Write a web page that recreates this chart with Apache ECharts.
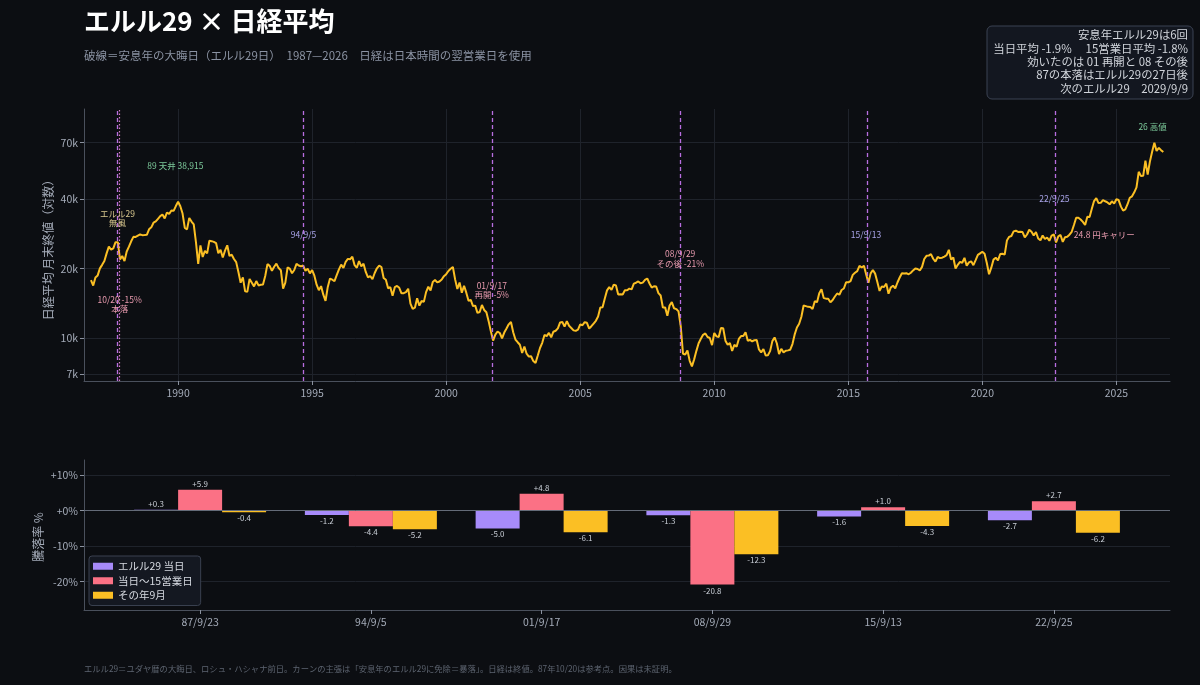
<!DOCTYPE html>
<html><head><meta charset="utf-8">
<script src="https://cdn.jsdelivr.net/npm/echarts@6/dist/echarts.min.js"></script>
<style>html,body{margin:0;padding:0;background:#0c0e12;}#c{width:1200px;height:685px;}</style>
</head><body><div id="c"></div>
<script>
const FONT = '"Noto Sans CJK JP","Noto Sans",sans-serif';

// Nikkei 225 month-end closes, starting Sep 1986
const seriesStart = { year: 1986, month: 9 };
const closes1980s = [17852,16910,18325,18701,
  20048,20767,21566,23274,24901,24176,24488,26029,26011,21910,22686,21564,
  23719,24886,26260,27434,27417,27769,28101,27911,27924,27986,29579,30159,
  31581,31986,32839,33713,34267,32949,34954,34431,35637,35549,37269,38916];
const closes1990s = [
  37189,34592,29980,29585,33131,31940,31036,25978,20984,25194,22455,23849,
  23293,26409,26292,26111,25790,23291,24121,22336,23916,25222,22687,22984,
  22023,21339,19346,17391,18348,15952,15910,18061,17399,16767,17684,16925,
  17024,17098,18591,20919,20552,19590,20380,21027,20106,19703,16408,17417,
  20229,19997,19112,19725,20974,20644,20449,20629,19564,19990,19076,19723,
  18650,17053,16140,16807,15437,14517,16678,18117,17913,17655,18744,19868,
  20813,20125,21407,22041,21956,22531,20693,20167,21556,20467,21020,19361,
  18330,18557,18003,19151,20069,20605,20331,18229,17888,16459,16633,15258,
  16628,16831,16527,15641,15671,15830,16379,14108,13406,13565,14884,13842,
  14499,14368,15837,16702,16112,17530,17862,17437,17606,17942,18558,18934];
const closes2000s = [
  19540,19960,20337,17974,16332,17411,15727,16861,15747,14539,14649,13786,
  13844,12884,12999,13934,13262,12969,11861,10714,9775,10367,10697,10543,
  9998,10588,11025,11493,11764,10622,9878,9619,9383,8640,9216,8579,
  8340,8363,7973,7831,8425,9083,9563,10344,10219,10560,10101,10677,
  10784,11042,11715,11762,11236,11859,11326,11082,10824,10771,10899,11489,
  11388,11741,11669,11009,11277,11584,11900,12414,13574,13607,14872,16111,
  16650,16206,17060,16907,15467,15505,15457,16141,16128,16399,16274,17226,
  17383,17604,17288,17400,17876,18138,17249,16569,16786,16737,15681,15308,
  13592,13604,12526,13850,14339,13481,13377,13073,11260,8577,8512,8860,
  7994,7568,8110,8828,9523,9958,10357,10493,10133,10035,9346,10546];
const closes2010s = [
  10198,10126,11090,11057,9769,9383,9537,8824,9369,9202,9937,10229,
  10238,10624,9755,9850,9694,9816,9833,8955,8700,8988,8435,8455,
  8803,9723,10084,9521,8543,9007,8695,8840,8870,8928,9446,10395,
  11139,11559,12398,13861,13775,13677,13668,13389,14456,14328,15662,16291,
  14915,14841,14828,14304,14632,15162,15621,15425,16174,16414,17460,17451,
  17674,18798,19207,19520,20563,20236,20585,18890,17388,19083,19747,19034,
  17518,16027,16759,16666,17235,15576,16569,16887,16450,17425,18308,19114,
  19041,19119,18909,19197,19651,20033,19925,19646,20356,22012,22725,22765,
  23098,22068,21454,22468,22202,22305,22554,22865,24120,21920,22351,20015,
  20773,21385,21206,22259,20601,21276,21522,20704,21756,22927,23294,23657];
const closes2020s = [
  23205,21143,18917,20194,21878,22288,21710,23140,23185,22977,26434,27444,
  27663,28966,29179,28813,28860,28792,27284,28090,29453,28893,27822,28792,
  27002,26527,27821,26848,27280,26393,27802,28092,25937,27587,27969,26095,
  27327,27446,28041,28856,30888,33189,33172,32619,31858,30859,33487,33464,
  36287,39166,40369,38406,38488,39583,39102,38648,37920,39081,38208,39895,
  39572,37156,35618,36045,37965,40487,41070,42718,44933,52411,50253,50339,
  58500,51000,58000,64000,70000,64500,66500,65000,63800];

// Sabbatical-year Elul 29 dates and returns (%)
const elulLabels = ['87/9/23','94/9/5','01/9/17','08/9/29','15/9/13','22/9/25'];
const crashDate = '87/10/20';
const elulDayPct = [0.3,-1.2,-5.0,-1.3,-1.6,-2.7];
const elul15Pct  = [5.9,-4.4,4.8,-20.8,1.0,2.7];
const septPct    = [-0.4,-5.2,-6.1,-12.3,-4.3,-6.2];

const yTickValues = [7000,10000,20000,40000,70000];
const xYearTicks = [1990,1995,2000,2005,2010,2015,2020,2025];
const pctTicks = [-20,-10,0,10];
const legendNames = ['エルル29 当日','当日〜15営業日','その年9月'];

// annotation texts (anchored in data coordinates)
const annotations = [
  {text:'エルル29\n無風', x:1987.74, y:33000, color:'#d8c78e'},
  {text:'10/20 -15%\n本落', x:1987.82, y:14000, color:'#e89aae'},
  {text:'89 天井 38,915', x:1989.9, y:55700, color:'#7cc99a'},
  {text:'94/9/5', x:1994.68, y:27900, color:'#a9a4e8'},
  {text:'01/9/17\n再開 -5%', x:2001.70, y:16100, color:'#e89aae'},
  {text:'03 底', x:2003.22, y:5650, color:'#6fa3d8'},
  {text:'08/9/29\nその後 -21%', x:2008.73, y:22100, color:'#e89aae'},
  {text:'15/9/13', x:2015.66, y:27900, color:'#a9a4e8'},
  {text:'22/9/25', x:2022.69, y:40000, color:'#a9a4e8'},
  {text:'24.8 円キャリー', x:2024.55, y:28100, color:'#e89aae'},
  {text:'26 高値', x:2026.35, y:82000, color:'#7cc99a'}
];

const infoLines = ['安息年エルル29は6回','当日平均 -1.9%　 15営業日平均 -1.8%','効いたのは 01 再開と 08 その後','87の本落はエルル29の27日後','次のエルル29　2029/9/9'];

function dateFrac(s){
  const p = s.split('/').map(Number);
  const y = p[0] > 50 ? 1900 + p[0] : 2000 + p[0];
  const a = Date.UTC(y,0,1), b = Date.UTC(y+1,0,1);
  return y + (Date.UTC(y,p[1]-1,p[2]) - a) / (b - a);
}
const allCloses = closes1980s.concat(closes1990s, closes2000s, closes2010s, closes2020s);
const lineData = allCloses.map((v,i) => {
  const m = seriesStart.month + i;
  return [seriesStart.year + m/12, v];
});
const fmtPct = v => (v > 0 ? '+' : '') + v.toFixed(1);
function barData(arr){
  return arr.map((v,i) => ({value:[i,v], label:{position: v >= 0 ? 'top' : 'bottom'}}));
}

const axisLineCol = '#4a505c';
const gridCol = '#1f232b';
const labelCol = '#a4abb8';

const chart = echarts.init(document.getElementById('c'), null, {renderer:'canvas'});
const barLabel = {show:true, formatter:p => fmtPct(p.value[1]), color:'#c9ced6', fontSize:8, distance:2, fontFamily:FONT};

chart.setOption({
  backgroundColor:'#0c0e12',
  animation:false,
  textStyle:{fontFamily:FONT},
  grid:[{left:84, top:109, width:1086, height:272},{left:84, top:460, width:1086, height:150}],
  xAxis:[
    {type:'value', gridIndex:0, min:1986.49, max:2027.0,
      axisLine:{show:true, onZero:false, lineStyle:{color:axisLineCol}},
      axisTick:{show:true, customValues:xYearTicks, length:4, lineStyle:{color:'#8a919e'}},
      axisLabel:{customValues:xYearTicks, formatter:v => String(Math.round(v)), color:labelCol, fontSize:10.5, margin:7, fontFamily:FONT},
      splitLine:{show:true, lineStyle:{color:gridCol}}},
    {type:'value', gridIndex:1, min:-0.68, max:5.68,
      axisLine:{show:true, onZero:false, lineStyle:{color:axisLineCol}},
      axisTick:{show:true, customValues:[0,1,2,3,4,5], length:4, lineStyle:{color:'#8a919e'}},
      axisLabel:{customValues:[0,1,2,3,4,5], formatter:v => elulLabels[Math.round(v)], color:labelCol, fontSize:10.5, margin:7, fontFamily:FONT},
      splitLine:{show:false}}
  ],
  yAxis:[
    {type:'log', logBase:10, gridIndex:0, min:6540, max:97900,
      axisLine:{show:true, onZero:false, lineStyle:{color:axisLineCol}},
      axisTick:{show:true, customValues:yTickValues, length:4, lineStyle:{color:'#8a919e'}},
      axisLabel:{customValues:yTickValues, formatter:v => Math.round(v/1000) + 'k', color:labelCol, fontSize:10.5, margin:6, fontFamily:FONT},
      splitLine:{show:true, lineStyle:{color:gridCol}}},
    {type:'value', gridIndex:1, min:-28, max:14.3,
      axisLine:{show:true, onZero:false, lineStyle:{color:axisLineCol}},
      axisTick:{show:true, customValues:pctTicks, length:4, lineStyle:{color:'#8a919e'}},
      axisLabel:{customValues:pctTicks, formatter:v => (v >= 0 ? '+' : '') + v + '%', color:labelCol, fontSize:10.5, margin:6, fontFamily:FONT},
      splitLine:{show:true, lineStyle:{color:gridCol}}}
  ],
  legend:{data:legendNames, orient:'vertical', left:89, top:556, icon:'rect', itemWidth:20, itemHeight:7, itemGap:4,
    textStyle:{color:'#d5d9e0', fontSize:10.5, fontFamily:FONT},
    backgroundColor:'#141821', borderColor:'#3a4150', borderWidth:1, borderRadius:3, padding:[5,8,5,4]},
  series:[
    {type:'line', name:'日経平均', xAxisIndex:0, yAxisIndex:0, data:lineData, showSymbol:false, z:3,
      lineStyle:{color:'#fbbf24', width:2}, itemStyle:{color:'#fbbf24'},
      markLine:{silent:true, symbol:'none', label:{show:false},
        data:[
          ...elulLabels.map(s => ({xAxis:dateFrac(s), lineStyle:{color:'#b86ee0', width:1.3, type:[4,3]}})),
          {xAxis:dateFrac(crashDate), lineStyle:{color:'#d47fc0', width:1.2, type:[1.5,2]}}
        ]},
      markPoint:{silent:true,
        data:annotations.map(a => ({coord:[a.x,a.y], symbol:'circle', symbolSize:0,
          label:{show:true, position:'inside', formatter:a.text, color:a.color, fontSize:8.5, lineHeight:9.5, fontFamily:FONT, align:'center', verticalAlign:'middle'}}))}
    },
    {type:'bar', name:legendNames[0], xAxisIndex:1, yAxisIndex:1, data:barData(elulDayPct), barWidth:44, barGap:'0%',
      itemStyle:{color:'#a78bfa'}, label:barLabel,
      markLine:{silent:true, symbol:'none', label:{show:false}, data:[{yAxis:0}], lineStyle:{color:'#646b78', width:1, type:'solid'}}},
    {type:'bar', name:legendNames[1], xAxisIndex:1, yAxisIndex:1, data:barData(elul15Pct), barWidth:44, barGap:'0%',
      itemStyle:{color:'#fb7185'}, label:barLabel},
    {type:'bar', name:legendNames[2], xAxisIndex:1, yAxisIndex:1, data:barData(septPct), barWidth:44, barGap:'0%',
      itemStyle:{color:'#fbbf24'}, label:barLabel}
  ],
  graphic:[
    {type:'text', left:84, top:8, style:{text:'エルル29 × 日経平均', fill:'#ffffff', font:'bold 26px ' + FONT}},
    {type:'text', left:84, top:50, style:{text:'破線＝安息年の大晦日（エルル29日）　1987—2026　日経は日本時間の翌営業日を使用', fill:'#8b93a3', font:'11.5px ' + FONT}},
    {type:'rect', shape:{x:987, y:26, width:206, height:73, r:5}, style:{fill:'#131720', stroke:'#3b4252', lineWidth:1}},
    {type:'text', x:1188, y:28.5, style:{text:infoLines.join('\n'), fill:'#d1d5db', font:'11.4px ' + FONT, align:'right', verticalAlign:'top', lineHeight:13.3}},
    {type:'text', x:48, y:247, rotation:Math.PI/2, style:{text:'日経平均 月末終値（対数）', fill:labelCol, font:'12px ' + FONT, align:'center', verticalAlign:'middle'}},
    {type:'text', x:38, y:537, rotation:Math.PI/2, style:{text:'騰落率 %', fill:labelCol, font:'12px ' + FONT, align:'center', verticalAlign:'middle'}},
    {type:'text', left:84, top:665, style:{text:'エルル29＝ユダヤ暦の大晦日、ロシュ・ハシャナ前日。カーンの主張は「安息年のエルル29に免除＝暴落」。日経は終値。87年10/20は参考点。因果は未証明。', fill:'#5d6470', font:'8.3px ' + FONT}}
  ]
});
</script></body></html>
